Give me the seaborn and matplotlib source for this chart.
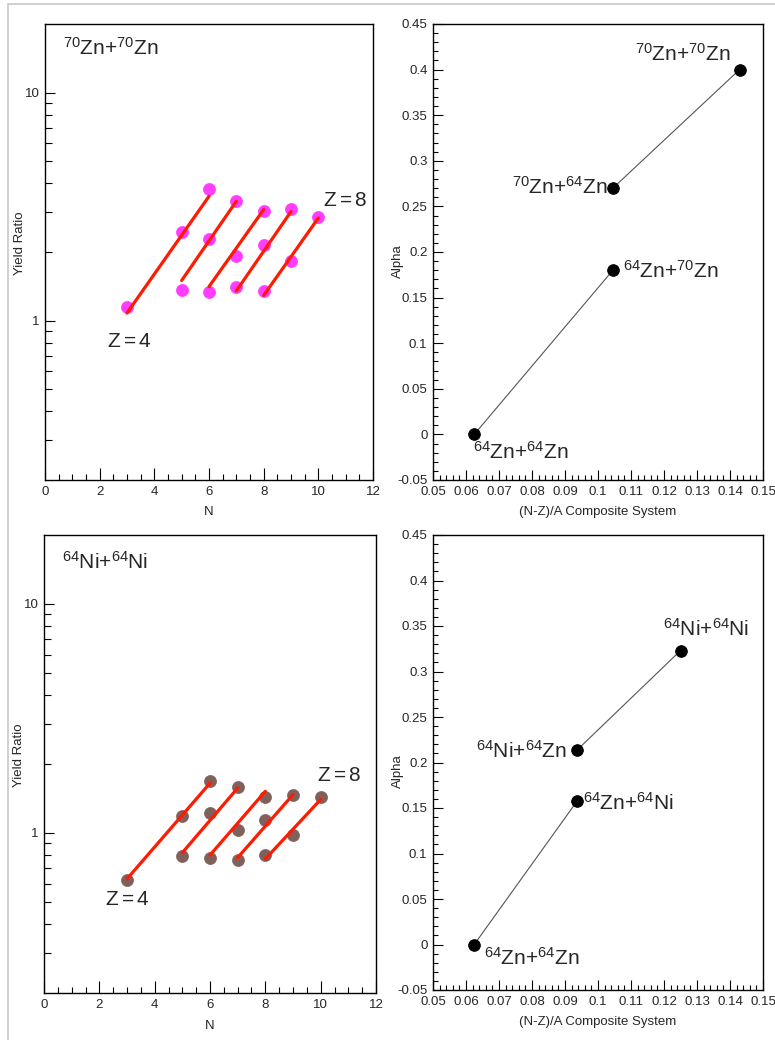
import numpy as np
import pandas as pd
import seaborn as sns
import matplotlib.pyplot as plt
from matplotlib.lines import Line2D
from matplotlib.ticker import FixedLocator, MultipleLocator, NullFormatter, FuncFormatter

# yield ratio points (N, isotope chain Z)
n_pts = [3, 5, 6, 5, 6, 7, 6, 7, 8, 7, 8, 9, 8, 9, 10]
z_pts = [4, 4, 4, 5, 5, 5, 6, 6, 6, 7, 7, 7, 8, 8, 8]
ratio_zn70 = [1.15, 2.45, 3.78, 1.36, 2.27, 3.36, 1.34, 1.93, 3.04,
              1.40, 2.14, 3.09, 1.35, 1.82, 2.84]
ratio_ni64 = [0.62, 1.19, 1.68, 0.79, 1.22, 1.58, 0.78, 1.03, 1.44,
              0.76, 1.14, 1.47, 0.80, 0.98, 1.43]

# fitted lines for each Z
z_fit = [4, 5, 6, 7, 8]
fit_n_lo = [3, 5, 6, 7, 8]
fit_n_hi = [6, 7, 8, 9, 10]
fit_lo_zn70 = [1.08, 1.50, 1.41, 1.35, 1.29]
fit_hi_zn70 = [3.51, 3.34, 3.07, 3.01, 2.82]
fit_lo_ni64 = [0.63, 0.82, 0.80, 0.78, 0.77]
fit_hi_ni64 = [1.65, 1.57, 1.52, 1.47, 1.40]

# alpha vs (N-Z)/A of composite system
asym_zn = [0.0625, 0.1045, 0.1045, 0.1429]
alpha_zn = [0.0, 0.18, 0.27, 0.40]
label_zn = [r'$^{64}$Zn+$^{64}$Zn', r'$^{64}$Zn+$^{70}$Zn',
            r'$^{70}$Zn+$^{64}$Zn', r'$^{70}$Zn+$^{70}$Zn']
asym_ni = [0.0625, 0.09375, 0.09375, 0.125]
alpha_ni = [0.0, 0.158, 0.214, 0.323]
label_ni = [r'$^{64}$Zn+$^{64}$Zn', r'$^{64}$Zn+$^{64}$Ni',
            r'$^{64}$Ni+$^{64}$Zn', r'$^{64}$Ni+$^{64}$Ni']
pair = [0, 0, 1, 1]

sns.set_style('white')
plt.rcParams['font.family'] = ['Liberation Sans', 'DejaVu Sans']
plt.rcParams['mathtext.fontset'] = 'custom'
plt.rcParams['mathtext.rm'] = 'Liberation Sans'
plt.rcParams['mathtext.it'] = 'Liberation Sans:italic'
plt.rcParams['mathtext.bf'] = 'Liberation Sans:bold'

W, H = 775, 1040
fig = plt.figure(figsize=(W / 100, H / 100), dpi=100)


def box(l, r, t, b):
    return [l / W, 1 - b / H, (r - l) / W, (b - t) / H]


ax_tl = fig.add_axes(box(45, 373, 24, 480))
ax_tr = fig.add_axes(box(433, 763, 24, 480))
ax_bl = fig.add_axes(box(44, 376, 535, 993))
ax_br = fig.add_axes(box(433, 763, 535, 990))

# frame of the page
fig.add_artist(Line2D([8 / W, 8 / W], [0, 1 - 3.5 / H], color='#c8c8c8', lw=1.2))
fig.add_artist(Line2D([8 / W, 1], [1 - 3.5 / H, 1 - 3.5 / H], color='#c8c8c8', lw=1.2))

TXT = 15


def style_axes(ax):
    for s in ax.spines.values():
        s.set_color('black')
        s.set_linewidth(1.0)
        s.set_visible(True)
    ax.tick_params(which='both', direction='in', bottom=True, left=True,
                   top=False, right=False, labelsize=9.5, pad=4,
                   color='black', width=0.8)
    ax.set_facecolor('white')


def yield_panel(ax, ratio, lo, hi, color, title, title_xy, z4_xy, z8_xy):
    pts = pd.DataFrame({'N': n_pts, 'ratio': ratio, 'Z': z_pts})
    ax.set_yscale('log')
    sns.scatterplot(data=pts, x='N', y='ratio', color=color, s=75,
                    edgecolor=color, linewidth=0.5, ax=ax, zorder=3, legend=False)
    for i in range(len(z_fit)):
        seg = pd.DataFrame({'N': [fit_n_lo[i], fit_n_hi[i]],
                            'ratio': [lo[i], hi[i]]})
        sns.lineplot(data=seg, x='N', y='ratio', color='#ff1a00', lw=2.3,
                     ax=ax, zorder=4, legend=False)
    ax.set_xlim(0, 12)
    ax.set_ylim(0.2, 20)
    style_axes(ax)
    ax.xaxis.set_major_locator(MultipleLocator(2))
    ax.xaxis.set_minor_locator(MultipleLocator(0.5))
    ax.yaxis.set_major_locator(FixedLocator([1, 10]))
    ax.yaxis.set_major_formatter(FuncFormatter(lambda v, p: '%g' % v))
    ax.yaxis.set_minor_locator(FixedLocator([0.3, 0.4, 0.5, 0.6, 0.7, 0.8, 0.9,
                                             2, 3, 4, 5, 6, 7, 8, 9]))
    ax.yaxis.set_minor_formatter(NullFormatter())
    ax.tick_params(axis='x', which='major', length=9)
    ax.tick_params(axis='x', which='minor', length=4.5)
    ax.tick_params(axis='y', which='major', length=7.5)
    ax.tick_params(axis='y', which='minor', length=5)
    ax.set_xlabel('N', fontsize=9.5)
    ax.set_ylabel('Yield Ratio', fontsize=9.5)
    ax.xaxis.set_label_coords(0.5, -0.058)
    ax.yaxis.set_label_coords(-0.058, 0.52)
    ax.text(title_xy[0], title_xy[1], title, fontsize=TXT, va='baseline')
    ax.text(z4_xy[0], z4_xy[1], r'Z$=$4', fontsize=TXT, va='baseline')
    ax.text(z8_xy[0], z8_xy[1], r'Z$=$8', fontsize=TXT, va='baseline')


def alpha_panel(ax, asym, alpha, labels, label_pos):
    df = pd.DataFrame({'asym': asym, 'alpha': alpha, 'pair': pair})
    sns.lineplot(data=df, x='asym', y='alpha', units='pair', estimator=None,
                 color='#555555', lw=0.8, ax=ax, legend=False, sort=False)
    sns.scatterplot(data=df, x='asym', y='alpha', color='black', s=70,
                    edgecolor='black', ax=ax, zorder=3, legend=False)
    ax.set_xlim(0.05, 0.15)
    ax.set_ylim(-0.05, 0.45)
    style_axes(ax)
    fmt = FuncFormatter(lambda v, p: '%g' % round(v, 4))
    ax.xaxis.set_major_locator(MultipleLocator(0.01))
    ax.xaxis.set_minor_locator(MultipleLocator(0.002))
    ax.xaxis.set_major_formatter(fmt)
    ax.yaxis.set_major_locator(MultipleLocator(0.05))
    ax.yaxis.set_minor_locator(MultipleLocator(0.01))
    ax.yaxis.set_major_formatter(fmt)
    ax.tick_params(which='major', length=7)
    ax.tick_params(which='minor', length=3.5)
    ax.set_xlabel('(N-Z)/A Composite System', fontsize=9.5)
    ax.set_ylabel('Alpha', fontsize=9.5)
    ax.xaxis.set_label_coords(0.5, -0.058)
    ax.yaxis.set_label_coords(-0.087, 0.48)
    for lab, (x, y, ha) in zip(labels, label_pos):
        ax.text(x, y, lab, fontsize=TXT, va='baseline', ha=ha)


yield_panel(ax_tl, ratio_zn70, fit_lo_zn70, fit_hi_zn70, '#ff3cff',
            r'$^{70}$Zn+$^{70}$Zn', (0.66, 14.7), (2.27, 0.77), (10.17, 3.19))
yield_panel(ax_bl, ratio_ni64, fit_lo_ni64, fit_hi_ni64, '#80605a',
            r'$^{64}$Ni+$^{64}$Ni', (0.65, 14.2), (2.2, 0.485), (9.87, 1.69))

alpha_panel(ax_tr, asym_zn, alpha_zn, label_zn,
            [(0.0621, -0.027, 'left'), (0.1076, 0.1712, 'left'),
             (0.1030, 0.2633, 'right'), (0.1112, 0.4094, 'left')])
alpha_panel(ax_br, asym_ni, alpha_ni, label_ni,
            [(0.0656, -0.0228, 'left'), (0.0956, 0.1475, 'left'),
             (0.0905, 0.2047, 'right'), (0.1197, 0.3395, 'left')])

fig.savefig('out.png', dpi=100, facecolor='white')
